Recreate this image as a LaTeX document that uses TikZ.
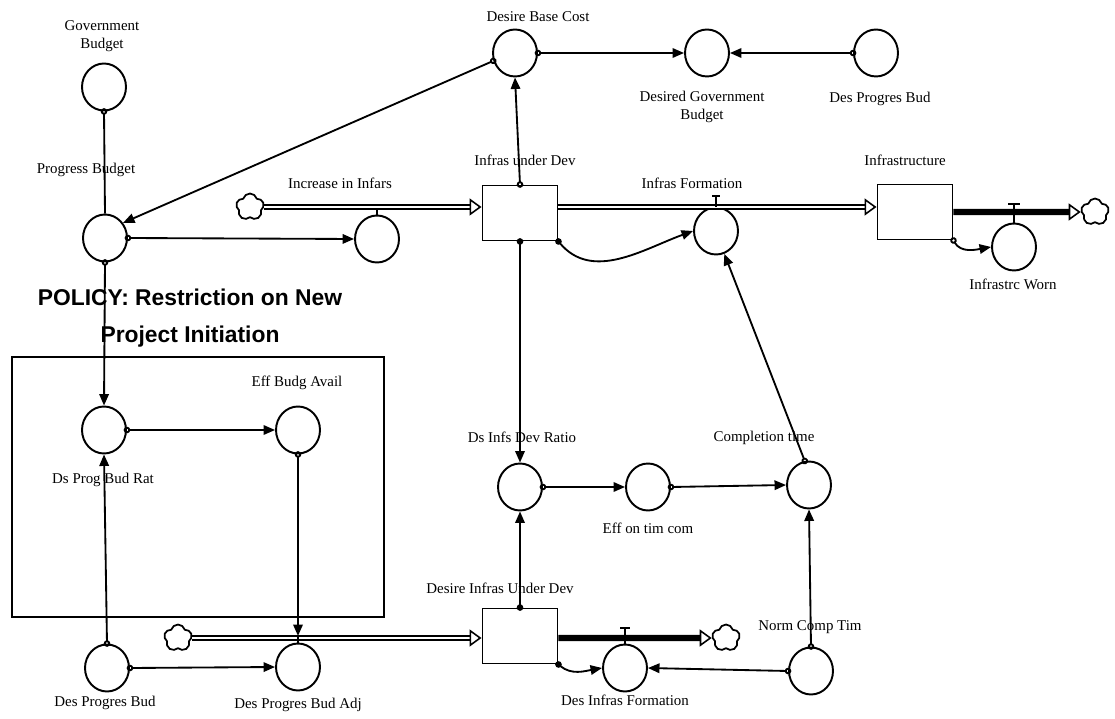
\documentclass[tikz,border=0pt]{standalone}
\usepackage{fontspec}
\setmainfont{Liberation Serif}
\newfontfamily\policyfont{Liberation Sans}
\usetikzlibrary{shapes.geometric,shapes.symbols,arrows.meta}
\tikzset{
  aux/.style={ellipse, draw, line width=1.1pt, minimum width=0.88cm, minimum height=0.94cm, inner sep=0pt},
  stock/.style={rectangle, draw, line width=1.1pt, minimum width=1.5cm, minimum height=1.1cm, inner sep=0pt},
  lbl/.style={font=\fontsize{8.5}{10.5}\selectfont, align=center, inner sep=1pt},
  cloudy/.style={cloud, draw, cloud puffs=5, aspect=1, minimum width=0.56cm, minimum height=0.54cm, inner sep=0pt, line width=1pt},
  conn/.style={{Circle[open,length=1.3mm]}-{Triangle[length=2.3mm,width=1.9mm]}, line width=1.05pt, shorten <=-0.65mm},
  dconn/.style={{Circle[length=1.3mm]}-{Triangle[length=2.3mm,width=1.9mm]}, line width=1.05pt, shorten <=-0.65mm},
  tail/.style={{Circle[open,length=1.3mm]}-, line width=1.05pt, shorten <=-0.65mm},
  pipe/.style={double, double distance=1.6pt, line width=0.8pt, -{Triangle[open,line width=0.9pt,length=2.4mm,width=3.4mm]}},
  outpipe/.style={line width=3.5pt, -{Triangle[open,line width=0.9pt,length=2.4mm,width=3.4mm]}},
  valve/.style={line width=1pt}
}
\begin{document}
\begin{tikzpicture}[x=0.02cm, y=-0.02cm]
\useasboundingbox (0,0) rectangle (1115,719);

% budget side
\node[aux] (gb) at (104,87) {};
\node[lbl] (gbl) at (102,36) {Government\\Budget};
\node[aux] (pb) at (105,238) {};
\node[lbl] (pbl) at (86,170) {Progress Budget};
\node[aux] (dbc) at (515,53) {};
\node[lbl] (dbcl) at (538,17) {Desire Base Cost};
\node[aux] (dgb) at (707,53) {};
\node[lbl] (dgbl) at (702,107) {Desired Government\\Budget};
\node[aux] (dpb) at (876,53) {};
\node[lbl] (dpbl) at (880,99) {Des Progres Bud};

% infrastructure chain
\node[cloudy] (c1) at (250,207) {};
\node[stock] (iud) at (520,213) {};
\node[lbl] (iudl) at (525,160) {Infras under Dev};
\node[aux] (inc) at (377,239) {};
\node[lbl] (incl) at (340,183) {Increase in Infars};
\node[aux] (ifm) at (716,231) {};
\node[lbl] (ifml) at (692,183) {Infras Formation};
\node[stock] (inf) at (915,212) {};
\node[lbl] (infl) at (905,160) {Infrastructure};
\node[aux] (iw) at (1014,247) {};
\node[lbl] (iwl) at (1013,284) {Infrastrc Worn};
\node[cloudy] (c2) at (1095,212) {};

\draw[pipe] (c1.east) -- (c1.east -| iud.west);
\draw[pipe] (iud.east |- c1) -- (inf.west |- c1);
\draw[outpipe] (inf.east) -- (c2.west);
\coordinate (v1) at (377,210);
\draw[valve] (v1) -- (inc.north);
\coordinate (v2) at (716,196);
\draw[valve] (v2) -- (ifm.north);
\draw[valve] (v2) ++(-4,0) -- ++(8,0);
\coordinate (v3) at (1014,204);
\draw[valve] (v3) -- (iw.north);
\draw[valve] (v3) ++(-6,0) -- ++(12,0);

\draw[tail] (gb.south) -- (pb.north);
\draw[conn] (dbc.200) -- (pb.40);
\draw[conn] (pb.east) -- (inc.west);
\draw[conn] (iud.north) -- (dbc.south);
\draw[conn] (dbc.east) -- (dgb.west);
\draw[conn] (dpb.west) -- (dgb.east);
\draw[dconn] (iud.south east) to[out=-50, in=200] (ifm.west);
\draw[conn] (inf.south east) to[out=-60, in=190] (iw.west);

% completion time
\node[aux] (ds) at (520,487) {};
\node[lbl] (dsl) at (522,437) {Ds Infs Dev Ratio};
\node[aux] (eot) at (648,487) {};
\node[lbl] (eotl) at (648,528) {Eff on tim com};
\node[aux] (ct) at (809,485) {};
\node[lbl] (ctl) at (764,438) {Completion time};
\draw[dconn] (iud.south) -- (ds.north);
\draw[conn] (ds.east) -- (eot.west);
\draw[conn] (eot.east) -- (ct.west);
\draw[conn] (ct.100) -- (ifm.290);

% desired infrastructure
\node[stock] (diud) at (520,636) {};
\node[lbl] (diudl) at (500,588) {Desire Infras Under Dev};
\node[cloudy] (c3) at (178,638) {};
\node[aux] (dif) at (625,668) {};
\node[lbl] (difl) at (625,700) {Des Infras Formation};
\node[cloudy] (c4) at (726,638) {};
\node[aux] (nct) at (811,671) {};
\node[lbl] (nctl) at (810,627) {Norm Comp Tim};
\draw[pipe] (c3.east) -- (c3.east -| diud.west);
\draw[outpipe] (diud.east |- c4) -- (c4.west);
\coordinate (v4) at (625,628);
\draw[valve] (v4) -- (dif.north);
\draw[valve] (v4) ++(-5,0) -- ++(10,0);
\draw[dconn] (diud.north) -- (ds.south);
\draw[dconn] (diud.south east) to[out=-40, in=190] (dif.west);
\draw[conn] (nct.north) -- (ct.south);
\draw[conn] (nct.west) -- (dif.east);

% policy
\draw[line width=1pt] (12,357) rectangle (384,617);
\node[font=\policyfont\bfseries\fontsize{13}{21}\selectfont, align=center] (polt) at (190,318) {POLICY: Restriction on New\\Project Initiation};
\node[aux] (dpbr) at (104,430) {};
\node[lbl, fill=white] (dpbrl) at (103,480) {Ds Prog Bud Rat};
\node[aux] (eba) at (298,430) {};
\node[lbl] (ebal) at (297,383) {Eff Budg Avail};
\node[aux] (dpb2) at (107,668) {};
\node[lbl] (dpb2l) at (105,703) {Des Progres Bud};
\node[aux] (dpba) at (298,667) {};
\node[lbl] (dpbal) at (298,705) {Des Progres Bud Adj};
\draw[conn] (pb.south) -- (dpbr.north);
\draw[conn] (dpb2.north) -- (dpbr.south);
\draw[conn] (dpbr.east) -- (eba.west);
\draw[conn] (dpb2.east) -- (dpba.west);
\coordinate (v5) at (298,636);
\draw[conn] (eba.south) -- (v5);
\draw[valve] (v5) -- (dpba.north);
\end{tikzpicture}
\end{document}
